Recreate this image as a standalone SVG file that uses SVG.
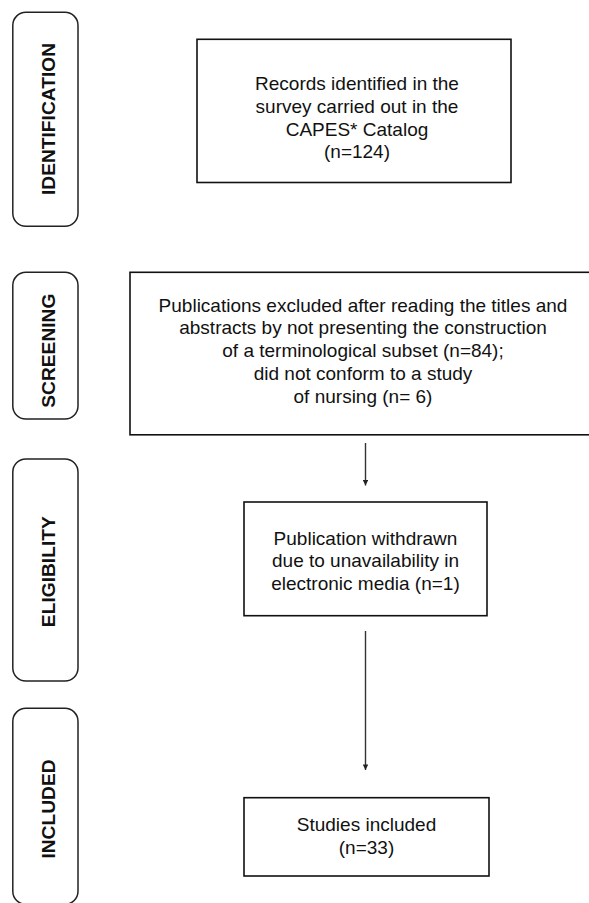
<svg xmlns="http://www.w3.org/2000/svg" width="589" height="903" viewBox="0 0 589 903">
<defs>
<style>
.pill{fill:#fff;stroke:#222;stroke-width:1.5}
.box{fill:#fff;stroke:#111;stroke-width:1.6}
.lbl{font-family:"Liberation Sans",Arial,sans-serif;font-weight:bold;font-size:19.2px;fill:#111;text-anchor:middle}
.txt{font-family:"Liberation Sans",Arial,sans-serif;font-size:19px;fill:#111;text-anchor:middle}
.con{stroke:#333;stroke-width:1.4;fill:none}
</style>
<marker id="ah" viewBox="0 0 10 10" refX="10" refY="5" markerWidth="4" markerHeight="4" orient="auto" markerUnits="strokeWidth">
<path d="M0,0 L10,5 L0,10 z" fill="#222"/>
</marker>
</defs>
<rect width="589" height="903" fill="#fff"/>
<g id="stage-identification">
<rect class="pill" x="12.8" y="12.3" width="65.2" height="214" rx="13"/>
<text class="lbl" transform="translate(55,119) rotate(-90)">IDENTIFICATION</text>
</g>
<g id="stage-screening">
<rect class="pill" x="12.8" y="272.3" width="65.2" height="146.7" rx="13"/>
<text class="lbl" transform="translate(55,350.7) rotate(-90)">SCREENING</text>
</g>
<g id="stage-eligibility">
<rect class="pill" x="12.8" y="459" width="65.2" height="222" rx="13"/>
<text class="lbl" transform="translate(55,571.7) rotate(-90)">ELIGIBILITY</text>
</g>
<g id="stage-included">
<rect class="pill" x="12.8" y="708.3" width="65.2" height="196" rx="13"/>
<text class="lbl" transform="translate(55,809) rotate(-90)">INCLUDED</text>
</g>
<g id="records">
<rect class="box" x="197" y="39.3" width="314" height="143.2"/>
<text class="txt" x="357" y="90.2">Records identified in the</text>
<text class="txt" x="357" y="112.9">survey carried out in the</text>
<text class="txt" x="357" y="135.6">CAPES* Catalog</text>
<text class="txt" x="357" y="158.3">(n=124)</text>
</g>
<g id="excluded">
<rect class="box" x="130" y="272.3" width="470" height="162.5"/>
<text class="txt" x="363" y="311.7">Publications excluded after reading the titles and</text>
<text class="txt" x="363" y="334.4">abstracts by not presenting the construction</text>
<text class="txt" x="363" y="357.1">of a terminological subset (n=84);</text>
<text class="txt" x="363" y="379.8">did not conform to a study</text>
<text class="txt" x="363" y="402.5">of nursing (n= 6)</text>
</g>
<g id="withdrawn">
<rect class="box" x="244" y="502" width="243" height="113.7"/>
<text class="txt" x="365.5" y="544.7">Publication withdrawn</text>
<text class="txt" x="365.5" y="567.2">due to unavailability in</text>
<text class="txt" x="365.5" y="589.7">electronic media (n=1)</text>
</g>
<g id="included">
<rect class="box" x="244" y="797.7" width="245" height="78.3"/>
<text class="txt" x="366.5" y="831.2">Studies included</text>
<text class="txt" x="366.5" y="853.7">(n=33)</text>
</g>
<g id="connectors">
<line class="con" x1="365.5" y1="443" x2="365.5" y2="485.5" marker-end="url(#ah)"/>
<line class="con" x1="365.5" y1="631" x2="365.5" y2="770" marker-end="url(#ah)"/>
</g>
</svg>
